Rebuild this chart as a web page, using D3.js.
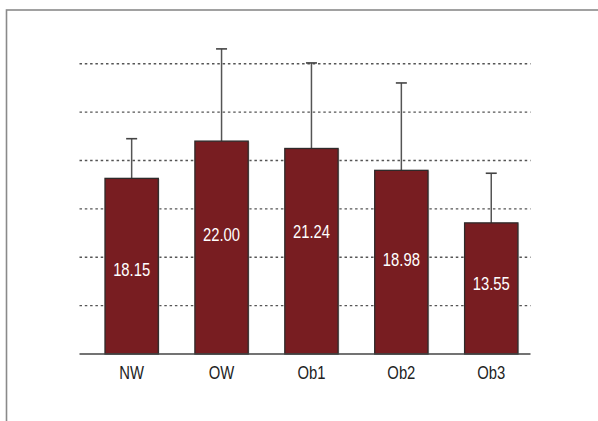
<!DOCTYPE html>
<html>
<head>
<meta charset="utf-8">
<script src="https://cdn.jsdelivr.net/npm/d3@7"></script>
<style>
  html, body { margin: 0; padding: 0; background: #fff; }
  svg { display: block; }
  text { font-family: "Liberation Sans", Arial, sans-serif; }
</style>
</head>
<body>
<svg id="chart" width="598" height="421"></svg>
<script>
// ---- data ----
const categories = ["NW", "OW", "Ob1", "Ob2", "Ob3"];
const means = [18.15, 22.00, 21.24, 18.98, 13.55];
const sds = [4.1, 9.53, 8.84, 9.03, 5.13];
const gridTicks = [5, 10, 15, 20, 25, 30];
// label anchor (value units) where each inner value label is centered
const labelAt = [8.7, 12.4, 12.7, 9.8, 7.25];

// ---- layout ----
const svg = d3.select("#chart");
const plotLeft = 79.5, plotRight = 530.5;
const squeeze = 0.78; // horizontal condensing of the narrow typeface

const y = d3.scaleLinear().domain([0, 30]).range([354, 63.7]);
const x = d3.scaleBand().domain(categories).range([86.7, 536.2])
  .paddingInner(0.407).paddingOuter(0.2035);

// frame
svg.append("rect")
  .attr("x", 6.5).attr("y", 10).attr("width", 620).attr("height", 440)
  .attr("fill", "none").attr("stroke", "#8a8a8a").attr("stroke-width", 1.6);

// gridlines
svg.append("g").selectAll("line").data(gridTicks).join("line")
  .attr("x1", plotLeft).attr("x2", plotRight)
  .attr("y1", d => y(d)).attr("y2", d => y(d))
  .attr("stroke", "#555").attr("stroke-width", 1.4)
  .attr("stroke-dasharray", "2.5,2.8");

const rows = categories.map((c, i) => ({ c, m: means[i], sd: sds[i], l: labelAt[i] }));
const cx = d => x(d.c) + x.bandwidth() / 2;

// error bars
const eb = svg.append("g");
eb.selectAll("line.v").data(rows).join("line").attr("class", "v")
  .attr("x1", cx).attr("x2", cx)
  .attr("y1", d => y(d.m)).attr("y2", d => y(d.m + d.sd))
  .attr("stroke", "#555").attr("stroke-width", 1.5);
eb.selectAll("line.cap").data(rows).join("line").attr("class", "cap")
  .attr("x1", d => cx(d) - 5.5).attr("x2", d => cx(d) + 5.5)
  .attr("y1", d => y(d.m + d.sd)).attr("y2", d => y(d.m + d.sd))
  .attr("stroke", "#444").attr("stroke-width", 1.6);

// bar shadows
svg.append("g").selectAll("rect").data(rows).join("rect")
  .attr("x", d => x(d.c) + 1.2).attr("y", d => y(d.m) + 0.5)
  .attr("width", x.bandwidth()).attr("height", d => y(0) - y(d.m))
  .attr("fill", "#cfcfcf");

// bars
svg.append("g").selectAll("rect").data(rows).join("rect")
  .attr("x", d => x(d.c)).attr("y", d => y(d.m))
  .attr("width", x.bandwidth()).attr("height", d => y(0) - y(d.m))
  .attr("fill", "#781d21").attr("stroke", "#2e2a2a").attr("stroke-width", 1.3);

// baseline
svg.append("line")
  .attr("x1", plotLeft).attr("x2", plotRight)
  .attr("y1", y(0)).attr("y2", y(0))
  .attr("stroke", "#444").attr("stroke-width", 1.5);

// value labels
svg.append("g").selectAll("text").data(rows).join("text")
  .attr("transform", d => `translate(${cx(d)},${y(d.l)}) scale(${squeeze},1)`)
  .attr("dy", "0.35em")
  .attr("text-anchor", "middle")
  .attr("fill", "#ffffff")
  .attr("font-size", 19)
  .text(d => d.m.toFixed(2));

// category axis labels
const xAxis = d3.axisBottom(x).tickSize(0).tickPadding(0);
const gx = svg.append("g").attr("transform", `translate(0,${y(0)})`).call(xAxis);
gx.select(".domain").remove();
gx.selectAll("text")
  .attr("y", 25).attr("dy", 0)
  .attr("transform", `scale(${squeeze},1)`)
  .attr("fill", "#222")
  .attr("font-size", 19)
  .style("font-family", "\"Liberation Sans\", Arial, sans-serif");
</script>
</body>
</html>
